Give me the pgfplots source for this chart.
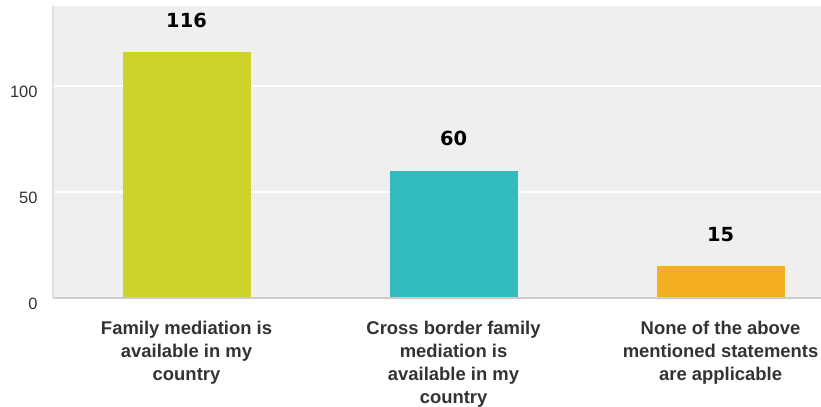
\documentclass[border=0pt]{standalone}
\usepackage{pgfplots}
\pgfplotsset{compat=1.18}
\usepackage{fontspec}
\setmainfont{Liberation Sans}
\newfontfamily\valfont{DejaVu Sans}
\definecolor{bgc}{HTML}{EFEFEF}
\definecolor{cA}{HTML}{CED32A}
\definecolor{cB}{HTML}{32BCBF}
\definecolor{cC}{HTML}{F6AF20}
\definecolor{txt}{HTML}{333333}
\begin{document}
\begin{tikzpicture}
\path[use as bounding box, clip] (-53bp,-109bp) rectangle (768bp,298bp);
\begin{axis}[
  at={(0,0)}, anchor=south west,
  scale only axis, width=768bp, height=292bp,
  xmin=-0.5, xmax=2.376, ymin=0, ymax=137.7,
  axis background/.style={fill=bgc},
  axis line style={draw=none},
  ybar, bar width=128bp, bar shift=0pt,
  xtick={0,1,2},
  xticklabels={{Family mediation is\\available in my\\country},
               {Cross border family\\mediation is\\available in my\\country},
               {None of the above\\mentioned statements\\are applicable}},
  xticklabel style={align=center, font=\fontsize{18.5}{23}\selectfont\bfseries, text=txt, yshift=-20bp},
  ytick={0,50,100},
  yticklabel style={font=\fontsize{16.5}{18}\selectfont, text=txt, yshift=-6bp, xshift=-12bp},
  /pgf/number format/assume math mode=true,
  major tick length=0pt,
  ymajorgrids, grid style={draw=white, line width=1.2bp},
  nodes near coords,
  nodes near coords style={font=\valfont\bfseries\fontsize{19.5}{21}\selectfont, text=black, yshift=21bp},
  clip=false,
]
\addplot[fill=cA, draw=none] coordinates {(0,116)};
\addplot[fill=cB, draw=none] coordinates {(1,60)};
\addplot[fill=cC, draw=none] coordinates {(2,15)};
\draw[draw=black!20, line width=1.5bp] (rel axis cs:0,0) -- (rel axis cs:1,0);
\draw[draw=black!12, line width=2.5bp] (rel axis cs:0,0) -- (rel axis cs:0,1);
\end{axis}
\end{tikzpicture}
\end{document}
